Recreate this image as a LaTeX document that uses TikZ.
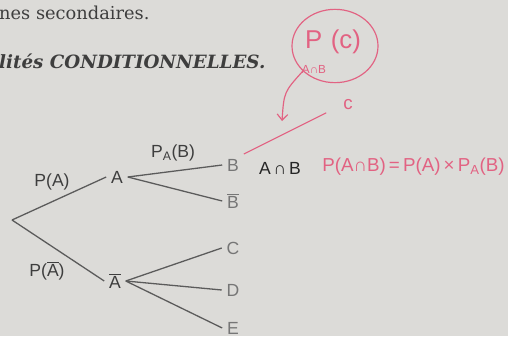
\documentclass[tikz,border=0pt]{standalone}
\usepackage{fontspec}
\setsansfont{Liberation Sans}
\newfontfamily\bookfont{DejaVu Serif}
\usetikzlibrary{shapes.geometric,arrows.meta}
\definecolor{paper}{RGB}{220,219,216}
\definecolor{ink}{RGB}{62,62,62}
\definecolor{leafgray}{RGB}{118,118,118}
\definecolor{penpink}{RGB}{226,98,130}
\begin{document}
\begin{tikzpicture}[x=0.03cm,y=-0.03cm]
  \tikzset{lbl/.style={font=\sffamily\fontsize{15}{15}\selectfont,text=ink,inner sep=4pt},
    leaf/.style={lbl,text=leafgray},
    br/.style={draw=ink!85,line width=1.1pt},
    redpen/.style={draw=penpink,line width=1pt},
    hand/.style={font=\sffamily\fontsize{16}{16}\selectfont,text=penpink,inner sep=1pt}}
  \fill[paper] (0,0) rectangle (508,336);
  \clip (0,0) rectangle (508,336);
  \node[anchor=base west,text=ink,inner sep=0pt,font=\bookfont\fontsize{15.2}{16}\selectfont] (t1) at (-1,19) {nes secondaires.};
  \node[anchor=base west,text=ink,inner sep=0pt,font=\bookfont\bfseries\itshape\fontsize{15.6}{16}\selectfont] (t2) at (-1,68) {lités CONDITIONNELLES.};
  \coordinate (o) at (12,220);
  \node[lbl] (a) at (117,177) {A};
  \node[lbl] (abar) at (115,281) {$\overline{\mbox{A}}$};
  \node[leaf] (b) at (233,165) {B};
  \node[leaf] (bbar) at (233,201) {$\overline{\mbox{B}}$};
  \node[leaf] (c) at (233,248) {C};
  \node[leaf] (d) at (233,290) {D};
  \node[leaf] (e) at (233,328) {E};
  \node[lbl] (pa) at (52,182) {P(A)};
  \node[lbl] (pabar) at (47,271) {P($\overline{\mbox{A}}$)};
  \node[lbl] (pab) at (173,153) {P\textsubscript{A}(B)};
  \node[lbl,text=black!85] (anb) at (280,168) {A\,∩\,B};
  \draw[br] (o) -- (a.west); \draw[br] (o) -- (abar.west);
  \draw[br] (a.east) -- (b.west); \draw[br] (a.east) -- (bbar.west);
  \draw[br] (abar.east) -- (c.west); \draw[br] (abar.east) -- (d.west); \draw[br] (abar.east) -- (e.west);
  \node[hand,anchor=west] (prod) at (321,167) {P(A∩B)\,=\,P(A)\,×\,P\textsubscript{A}(B)};
  \node[redpen,ellipse,minimum width=2.58cm,minimum height=2.2cm] (oval) at (335,46) {};
  \node[hand,font=\sffamily\fontsize{22}{22}\selectfont] (pc) at (333,42) {P\,\,(c)};
  \node[hand,font=\sffamily\fontsize{10}{10}\selectfont] (sub) at (314,69) {A∩B};
  \node[hand] (cc) at (348,105) {c};
  \coordinate (tip) at (282,121);
  \draw[redpen,-{Straight Barb[length=5pt,width=9pt]}] (oval.218) .. controls (284,92) .. (tip);
  \draw[redpen,shorten >=15] (b.north east) -- (cc.west);
\end{tikzpicture}
\end{document}
